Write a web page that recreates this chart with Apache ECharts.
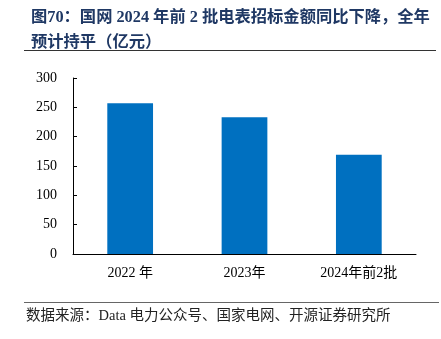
<!DOCTYPE html>
<html><head><meta charset="utf-8">
<script src="https://cdn.jsdelivr.net/npm/echarts@6/dist/echarts.min.js"></script>
<style>html,body{margin:0;padding:0;background:#fff}#c{width:441px;height:339px}</style>
</head><body><div id="c"></div>
<script>
var categories = ['2022 年', '2023年', '2024年前2批'];
var values = [257, 233, 169];
var yTicks = [0, 50, 100, 150, 200, 250, 300];
var titleLines = ['图70：国网 2024 年前 2 批电表招标金额同比下降，全年', '预计持平（亿元）'];
var sourceText = '数据来源：Data 电力公众号、国家电网、开源证券研究所';

var serif = '"Liberation Serif","Times New Roman","Noto Sans CJK SC",serif';
var chart = echarts.init(document.getElementById('c'));
chart.setOption({
  animation: false,
  backgroundColor: '#fff',
  title: {
    text: titleLines.join('\n'),
    left: 26, top: 0,
    textStyle: {fontFamily: serif, fontSize: 16.3, fontWeight: 'bold', color: '#1F3864', lineHeight: 25}
  },
  graphic: [
    {type: 'line', shape: {x1: 24, y1: 50.5, x2: 436, y2: 50.5}, style: {stroke: '#333', lineWidth: 1}},
    {type: 'line', shape: {x1: 24, y1: 302.5, x2: 439, y2: 302.5}, style: {stroke: '#666', lineWidth: 1}},
    {type: 'text', left: 26, top: 309, style: {text: sourceText, font: '14.5px ' + serif, fill: '#222'}}
  ],
  grid: {left: 73, right: 25, top: 78, bottom: 85},
  xAxis: {
    type: 'category', data: categories,
    axisLine: {lineStyle: {color: '#000', width: 1}},
    axisTick: {inside: true, length: 4, lineStyle: {color: '#000'}},
    axisLabel: {fontFamily: serif, fontSize: 14, color: '#000', margin: 12}
  },
  yAxis: {
    type: 'value', min: yTicks[0], max: yTicks[yTicks.length - 1], interval: yTicks[1] - yTicks[0],
    axisLine: {show: true, lineStyle: {color: '#000', width: 1}},
    axisTick: {show: true, inside: true, length: 4, lineStyle: {color: '#000'}},
    axisLabel: {fontFamily: serif, fontSize: 14, color: '#000', margin: 16},
    splitLine: {show: false}
  },
  series: [{
    type: 'bar', data: values, barWidth: '40%',
    itemStyle: {color: '#0070C0'}
  }]
});
</script></body></html>
